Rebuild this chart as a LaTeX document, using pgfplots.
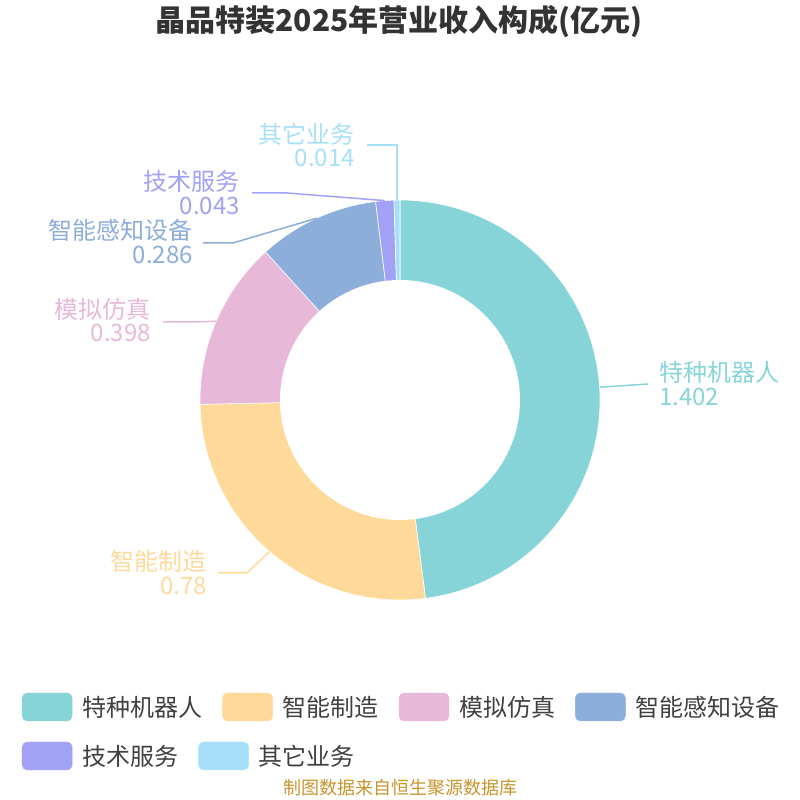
\documentclass[border=0pt]{standalone}
\usepackage{fontspec}
\setmainfont{Noto Sans CJK SC}
\usepackage{pgfplots}
\usepackage{pgfplotstable}
\pgfplotsset{compat=1.18}

\definecolor{c1}{HTML}{87D4D8}
\definecolor{c2}{HTML}{FFD99A}
\definecolor{c3}{HTML}{E7B8D8}
\definecolor{c4}{HTML}{8DADDA}
\definecolor{c5}{HTML}{A1A1F6}
\definecolor{c6}{HTML}{A8DFF8}
\definecolor{titlegray}{HTML}{333333}
\definecolor{leggray}{HTML}{404040}
\definecolor{srccol}{HTML}{C8942E}

\pgfplotstableread{
name value
robot 1.402
manuf 0.78
sim 0.398
sense 0.286
tech 0.043
other 0.014
}\piedata

\pgfplotsset{
  boxlegend/.style={legend image code/.code={\fill[#1,rounded corners=5pt] (0pt,-14pt) rectangle (50pt,14pt);}},
  base/.style={
    width=800pt, height=800pt, scale only axis,
    xmin=0, xmax=800, ymin=0, ymax=800,
    hide axis, clip=false,
    at={(0pt,0pt)}, anchor=south west,
  },
  legstyle/.style={
    legend columns=-1,
    legend style={at={(axis cs:22,#1)}, anchor=west, draw=none, fill=none,
      inner sep=0pt, outer sep=0pt,
      font=\fontsize{24}{24}\selectfont, text=leggray,
      column sep=10pt,
      /tikz/every even column/.append style={column sep=20pt},
      nodes={inner sep=0pt}},
  },
}

\begin{document}%
\begin{tikzpicture}
\pgfplotstablegetelem{0}{value}\of\piedata \let\vA\pgfplotsretval
\pgfplotstablegetelem{1}{value}\of\piedata \let\vB\pgfplotsretval
\pgfplotstablegetelem{2}{value}\of\piedata \let\vC\pgfplotsretval
\pgfplotstablegetelem{3}{value}\of\piedata \let\vD\pgfplotsretval
\pgfplotstablegetelem{4}{value}\of\piedata \let\vE\pgfplotsretval
\pgfplotstablegetelem{5}{value}\of\piedata \let\vF\pgfplotsretval
\pgfmathsetmacro\T{\vA+\vB+\vC+\vD+\vE+\vF}
\pgfmathsetmacro\aA{90}
\pgfmathsetmacro\aB{\aA-360*\vA/\T}
\pgfmathsetmacro\aC{\aB-360*\vB/\T}
\pgfmathsetmacro\aD{\aC-360*\vC/\T}
\pgfmathsetmacro\aE{\aD-360*\vD/\T}
\pgfmathsetmacro\aF{\aE-360*\vE/\T}
\pgfmathsetmacro\aG{\aF-360*\vF/\T}
\useasboundingbox (0pt,0pt) rectangle (800pt,800pt);
\begin{axis}[base, legstyle=93]
  \addplot[fill=c1, draw=white, line width=0.6pt, domain=\aB:\aA, samples=120, forget plot] ({400+200*cos(x)},{400+200*sin(x)}) -- (axis cs:400,400) -- cycle;
  \addplot[fill=c2, draw=white, line width=0.6pt, domain=\aC:\aB, samples=80, forget plot] ({400+200*cos(x)},{400+200*sin(x)}) -- (axis cs:400,400) -- cycle;
  \addplot[fill=c3, draw=white, line width=0.6pt, domain=\aD:\aC, samples=50, forget plot] ({400+200*cos(x)},{400+200*sin(x)}) -- (axis cs:400,400) -- cycle;
  \addplot[fill=c4, draw=white, line width=0.6pt, domain=\aE:\aD, samples=40, forget plot] ({400+200*cos(x)},{400+200*sin(x)}) -- (axis cs:400,400) -- cycle;
  \addplot[fill=c5, draw=white, line width=0.6pt, domain=\aF:\aE, samples=8, forget plot] ({400+200*cos(x)},{400+200*sin(x)}) -- (axis cs:400,400) -- cycle;
  \addplot[fill=c6, draw=white, line width=0.6pt, domain=\aG:\aF, samples=5, forget plot] ({400+200*cos(x)},{400+200*sin(x)}) -- (axis cs:400,400) -- cycle;
  \addplot[fill=white, draw=none, domain=0:360, samples=180, forget plot] ({400+120*cos(x)},{400+120*sin(x)}) -- cycle;
  % leader lines
  \addplot[c1, line width=1.5pt, forget plot] coordinates {(599.6,412.7) (648,416)};
  \addplot[c2, line width=1.5pt, forget plot] coordinates {(269.5,248.4) (247,227) (218,227)};
  \addplot[c3, line width=1.5pt, forget plot] coordinates {(216.2,478.8) (195,478) (163,478)};
  \addplot[c4, line width=1.5pt, forget plot] coordinates {(316.7,581.8) (233,557) (203,557)};
  \addplot[c5, line width=1.5pt, forget plot] coordinates {(384.7,599.4) (287,607) (252,607)};
  \addplot[c6, line width=1.5pt, forget plot] coordinates {(397,600) (397,655) (367,655)};
  % labels
  \begin{scope}[every node/.style={font=\fontsize{24}{23.5}\selectfont, inner sep=0pt}]
  \node[anchor=west, align=left, text=c1] at (axis cs:659,416.5) {特种机器人\\1.402};
  \node[anchor=east, align=right, text=c2] at (axis cs:207,227.5) {智能制造\\0.78};
  \node[anchor=east, align=right, text=c3] at (axis cs:151,480) {模拟仿真\\0.398};
  \node[anchor=east, align=right, text=c4] at (axis cs:193,558.5) {智能感知设备\\0.286};
  \node[anchor=east, align=right, text=c5] at (axis cs:240,607.5) {技术服务\\0.043};
  \node[anchor=east, align=right, text=c6] at (axis cs:355,655) {其它业务\\0.014};
  \end{scope}
  \node[font=\fontsize{30}{30}\bfseries\selectfont, text=titlegray] at (axis cs:399,778) {晶品特装2025年营业收入构成(亿元)};
  \node[font=\fontsize{18}{18}\selectfont, text=srccol] at (axis cs:400,12) {制图数据来自恒生聚源数据库};
  \addlegendimage{boxlegend=c1}\addlegendentry{特种机器人}
  \addlegendimage{boxlegend=c2}\addlegendentry{智能制造}
  \addlegendimage{boxlegend=c3}\addlegendentry{模拟仿真}
  \addlegendimage{boxlegend=c4}\addlegendentry{智能感知设备}
\end{axis}
\begin{axis}[base, legstyle=44]
  \addlegendimage{boxlegend=c5}\addlegendentry{技术服务}
  \addlegendimage{boxlegend=c6}\addlegendentry{其它业务}
\end{axis}
\end{tikzpicture}%
\end{document}
